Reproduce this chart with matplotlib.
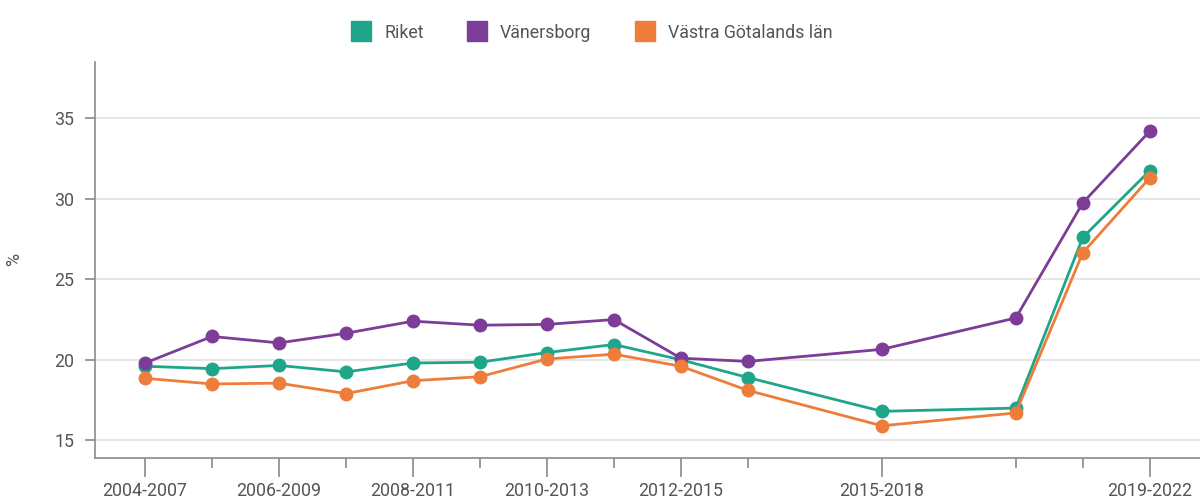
import matplotlib.pyplot as plt
from matplotlib.lines import Line2D

# start year of each four-year period
start_years = [2004, 2005, 2006, 2007, 2008, 2009, 2010, 2011, 2012, 2013, 2015, 2017, 2018, 2019]
period_labels = ['%d-%d' % (y, y + 3) for y in start_years]
labelled_years = [2004, 2006, 2008, 2010, 2012, 2015, 2019]

riket = [19.6, 19.45, 19.65, 19.25, 19.8, 19.85, 20.45, 20.95, 20.0, 18.9, 16.8, 17.0, 27.6, 31.75]
vanersborg = [19.8, 21.45, 21.05, 21.65, 22.4, 22.15, 22.2, 22.5, 20.1, 19.9, 20.65, 22.6, 29.75, 34.2]
vastra_gotaland = [18.85, 18.5, 18.55, 17.9, 18.7, 18.95, 20.05, 20.35, 19.6, 18.1, 15.9, 16.7, 26.65, 31.3]

series = [
    ('Riket', riket, '#1fa68a'),
    ('Vänersborg', vanersborg, '#7d3c98'),
    ('Västra Götalands län', vastra_gotaland, '#ee7d3b'),
]

plt.rcParams['font.family'] = ['Roboto', 'DejaVu Sans']
text_col = '#555555'
axis_col = '#8a8a8a'

fig = plt.figure(figsize=(12, 5), dpi=100)
ax = fig.add_axes([0.079, 0.084, 0.921, 0.792])

for z, (name, vals, col) in enumerate(series):
    ax.plot(start_years, vals, color=col, lw=2.0, marker='o', ms=9,
            zorder=3 + z, solid_capstyle='round')

ax.set_xlim(2003.25, 2019.75)
ax.set_ylim(13.9, 38.5)
ax.set_yticks([15, 20, 25, 30, 35])
ax.yaxis.grid(True, color='#e2e2e2', lw=1.2)
ax.set_axisbelow(True)

ax.set_xticks(labelled_years)
ax.set_xticklabels([period_labels[start_years.index(y)] for y in labelled_years])
ax.set_xticks([y for y in start_years if y not in labelled_years], minor=True)
ax.tick_params(axis='x', which='major', length=14, width=1.2, color=axis_col,
               labelsize=12.8, labelcolor=text_col, pad=3)
ax.tick_params(axis='x', which='minor', length=7, width=1.2, color=axis_col)
ax.tick_params(axis='y', length=7, width=1.2, color=axis_col,
               labelsize=12.8, labelcolor=text_col, pad=8)

for side in ['top', 'right']:
    ax.spines[side].set_visible(False)
for side in ['left', 'bottom']:
    ax.spines[side].set_color(axis_col)
    ax.spines[side].set_linewidth(1.2)

ax.set_ylabel('%', color=text_col, fontsize=12.8, labelpad=22)

handles = [Line2D([], [], ls='none', marker='s', ms=15, color=col) for _, _, col in series]
fig.legend(handles, [s[0] for s in series], loc='upper center', ncol=3,
           bbox_to_anchor=(0.49, 0.985), frameon=False, fontsize=12.8,
           labelcolor=text_col, handletextpad=0.3, columnspacing=2.0)

fig.savefig('out.png', dpi=100)
